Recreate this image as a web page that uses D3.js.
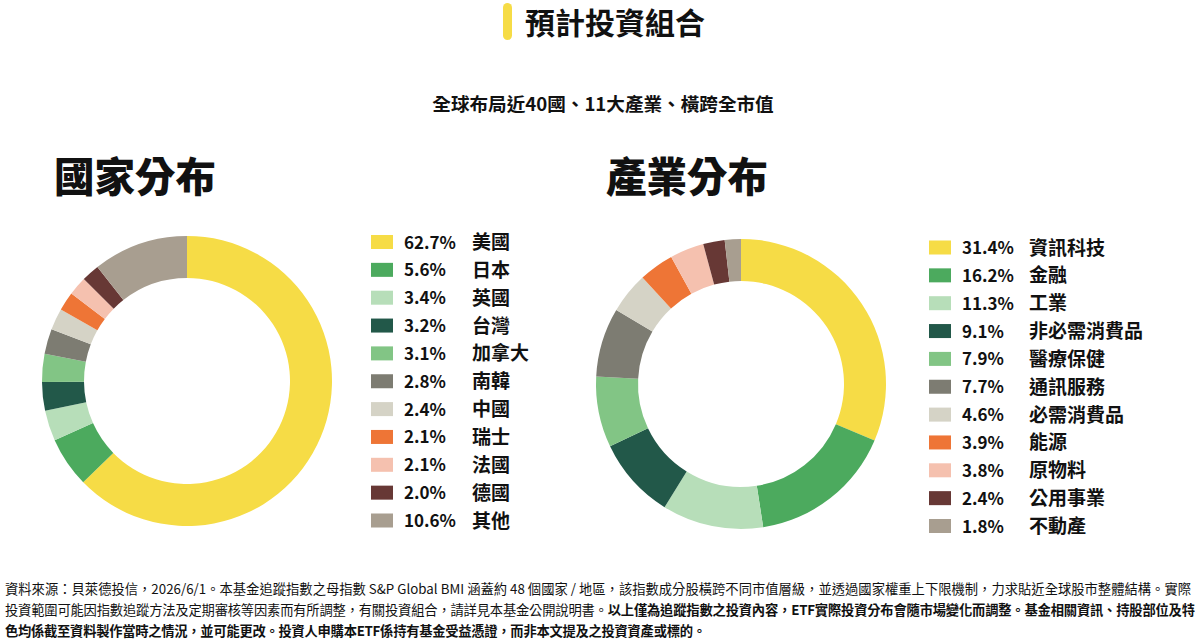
<!DOCTYPE html>
<html>
<head>
<meta charset="utf-8">
<script src="https://cdn.jsdelivr.net/npm/d3@7"></script>
<style>
  html, body { margin: 0; padding: 0; background: #fff; }
  svg { display: block; font-family: "Noto Sans CJK TC", "Noto Sans", sans-serif; }
</style>
</head>
<body>
<svg id="chart" width="1200" height="642"></svg>
<script>
// 預計投資組合 - two donut charts with legends

const countryNames = ['美國', '日本', '英國', '台灣', '加拿大', '南韓', '中國', '瑞士', '法國', '德國', '其他'];
const countryValues = [62.7, 5.6, 3.4, 3.2, 3.1, 2.8, 2.4, 2.1, 2.1, 2.0, 10.6];

const sectorNames = ['資訊科技', '金融', '工業', '非必需消費品', '醫療保健', '通訊服務', '必需消費品', '能源', '原物料', '公用事業', '不動產'];
const sectorValues = [31.4, 16.2, 11.3, 9.1, 7.9, 7.7, 4.6, 3.9, 3.8, 2.4, 1.8];

const palette = ['#f6dc46', '#4caa5e', '#b7deb9', '#225849', '#82c585', '#7d7c72',
                 '#d5d3c6', '#ee7536', '#f5c1af', '#673835', '#a89e90'];

const footLines = [
  [{ t: '資料來源：貝萊德投信，2026/6/1。本基金追蹤指數之母指數 S&P Global BMI 涵蓋約 48 個國家 / 地區，該指數成分股橫跨不同市值層級，並透過國家權重上下限機制，力求貼近全球股市整體結構。實際', b: false }],
  [{ t: '投資範圍可能因指數追蹤方法及定期審核等因素而有所調整，有關投資組合，請詳見本基金公開說明書。', b: false },
   { t: '以上僅為追蹤指數之投資內容，ETF實際投資分布會隨市場變化而調整。基金相關資訊、持股部位及特', b: true }],
  [{ t: '色均係截至資料製作當時之情況，並可能更改。投資人申購本ETF係持有基金受益憑證，而非本文提及之投資資產或標的。', b: true }]
];
const footWidths = [1186, 1190, 701];

(function () {
  const svg = d3.select('#chart');

  // Header
  svg.append('rect').attr('x', 503).attr('y', 3).attr('width', 9).attr('height', 37)
    .attr('rx', 4.5).attr('fill', '#f6dc46');
  svg.append('text').attr('x', 525).attr('y', 34)
    .attr('font-size', 30).attr('font-weight', 700).attr('fill', '#111')
    .text('預計投資組合');

  svg.append('text').attr('x', 603).attr('y', 111).attr('text-anchor', 'middle')
    .attr('font-size', 18.6).attr('font-weight', 700).attr('fill', '#111')
    .text('全球布局近40國、11大產業、橫跨全市值');

  function drawDonut(opts) {
    const color = d3.scaleOrdinal().domain(opts.names).range(palette);
    const data = opts.names.map((n, i) => ({ name: n, value: opts.values[i] }));

    svg.append('text').attr('x', opts.titleX).attr('y', 192)
      .attr('font-size', 40.5).attr('font-weight', 900).attr('fill', '#111')
      .text(opts.title);

    const pie = d3.pie().sort(null).value((d) => d.value);
    const arc = d3.arc().innerRadius(103).outerRadius(145);

    const g = svg.append('g').attr('transform', `translate(${opts.cx},${opts.cy})`);
    g.selectAll('path')
      .data(pie(data))
      .join('path')
      .attr('d', arc)
      .attr('fill', (d) => color(d.data.name));

    // Legend
    const y = d3.scalePoint().domain(opts.names).range([opts.legendY, opts.legendY + 278.5]);
    const lg = svg.append('g');
    const rows = lg.selectAll('g').data(data).join('g')
      .attr('transform', (d) => `translate(${opts.legendX},${y(d.name)})`);
    rows.append('rect').attr('x', 0).attr('y', -7).attr('width', 22).attr('height', 14)
      .attr('fill', (d) => color(d.name));
    rows.append('text').attr('x', 33).attr('y', 6.5)
      .attr('font-size', 17).attr('font-weight', 700).attr('fill', '#111')
      .text((d) => d.value.toFixed(1) + '%');
    rows.append('text').attr('x', opts.nameX).attr('y', 7)
      .attr('font-size', 19).attr('font-weight', 700).attr('fill', '#111')
      .text((d) => d.name);
  }

  drawDonut({
    title: '國家分布', titleX: 54, names: countryNames, values: countryValues,
    cx: 187, cy: 381, legendX: 371, legendY: 242, nameX: 101
  });
  drawDonut({
    title: '產業分布', titleX: 606, names: sectorNames, values: sectorValues,
    cx: 741, cy: 384, legendX: 929, legendY: 247.5, nameX: 100
  });

  // Footnote
  const foot = svg.append('g');
  footLines.forEach((parts, i) => {
    const t = foot.append('text').attr('x', 5).attr('y', 594 + i * 21)
      .attr('font-size', 13.3).attr('fill', '#111')
      .attr('textLength', footWidths[i]).attr('lengthAdjust', 'spacing');
    parts.forEach((p) => {
      t.append('tspan').attr('font-weight', p.b ? 700 : 400).text(p.t);
    });
  });
})();
</script>
</body>
</html>
